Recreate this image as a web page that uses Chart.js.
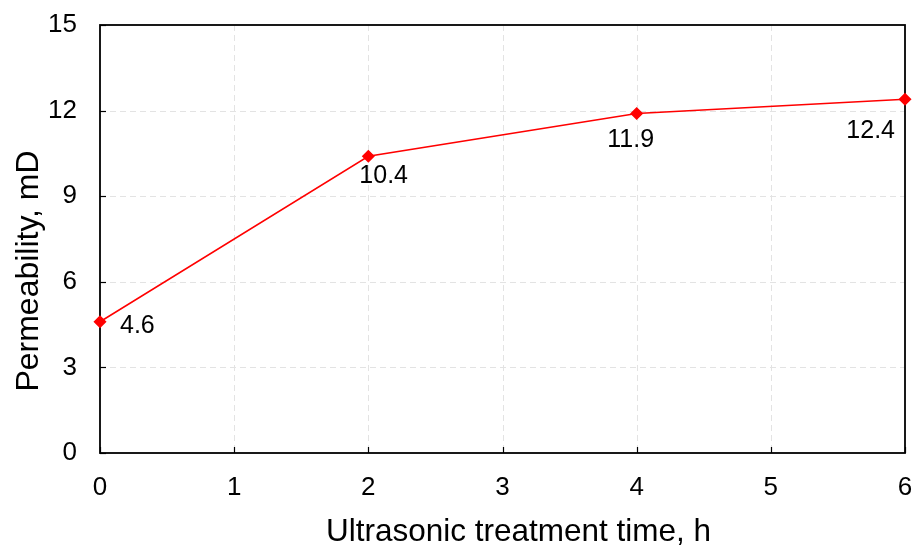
<!DOCTYPE html>
<html>
<head>
<meta charset="utf-8">
<script src="https://cdn.jsdelivr.net/npm/chart.js@4/dist/chart.umd.min.js"></script>
<style>
	html, body { margin: 0; padding: 0; background: #fff; }
	#wrap { width: 917px; height: 545px; }
</style>
</head>
<body>
<div id="wrap"><canvas id="mycanvas" width="917" height="545"></canvas></div>
<script>
// treatment time (h) and permeability (mD)
var hours = [0, 2, 4, 6];
var permeability = [4.6, 10.4, 11.9, 12.4];
var valueLabels = ['4.6', '10.4', '11.9', '12.4'];
var xTicks = [0, 1, 2, 3, 4, 5, 6];
var yTicks = [0, 3, 6, 9, 12, 15];

var xTitle = 'Ultrasonic treatment time, h';
var yTitle = 'Permeability, mD';

var FONT = '"Liberation Sans", Arial, sans-serif';

// where each value label sits relative to its point
var labelPlace = [
	{ dx: 20, dy: 11, align: 'left' },
	{ dx: -9, dy: 27, align: 'left' },
	{ dx: -6, dy: 34, align: 'center' },
	{ dx: -10, dy: 39, align: 'right' }
];

var points = [];
for (var i in hours) {
	points.push({ x: hours[i], y: permeability[i] });
}

var framePlugin = {
	id: 'frame',
	beforeDatasetsDraw: function(chart) {
		var ctx = chart.ctx;
		var a = chart.chartArea;
		var xs = chart.scales.x, ys = chart.scales.y;
		ctx.save();
		// dashed grid
		ctx.strokeStyle = '#e3e3e3';
		ctx.lineWidth = 1;
		ctx.setLineDash([6, 4]);
		xTicks.forEach(function(t) {
			if (t === xTicks[0] || t === xTicks[xTicks.length - 1]) return;
			var px = Math.round(xs.getPixelForValue(t)) + 0.5;
			ctx.beginPath(); ctx.moveTo(px, a.top); ctx.lineTo(px, a.bottom); ctx.stroke();
		});
		yTicks.forEach(function(t) {
			if (t === yTicks[0] || t === yTicks[yTicks.length - 1]) return;
			var py = Math.round(ys.getPixelForValue(t)) + 0.5;
			ctx.beginPath(); ctx.moveTo(a.left, py); ctx.lineTo(a.right, py); ctx.stroke();
		});
		ctx.setLineDash([]);
		// inward tick marks
		ctx.strokeStyle = '#000';
		ctx.lineWidth = 1.2;
		xTicks.forEach(function(t) {
			var px = Math.round(xs.getPixelForValue(t)) + 0.5;
			ctx.beginPath(); ctx.moveTo(px, a.bottom); ctx.lineTo(px, a.bottom - 6); ctx.stroke();
		});
		yTicks.forEach(function(t) {
			var py = Math.round(ys.getPixelForValue(t)) + 0.5;
			ctx.beginPath(); ctx.moveTo(a.left, py); ctx.lineTo(a.left + 6, py); ctx.stroke();
		});
		// box
		ctx.lineWidth = 1.8;
		ctx.strokeRect(a.left, a.top, a.right - a.left, a.bottom - a.top);
		ctx.restore();
	},
	afterDatasetsDraw: function(chart) {
		var ctx = chart.ctx;
		var meta = chart.getDatasetMeta(0);
		ctx.save();
		ctx.fillStyle = '#000';
		ctx.font = '25px ' + FONT;
		ctx.textBaseline = 'alphabetic';
		meta.data.forEach(function(el, i) {
			var p = labelPlace[i];
			ctx.textAlign = p.align;
			ctx.fillText(valueLabels[i], el.x + p.dx, el.y + p.dy);
		});
		// axis titles
		var a = chart.chartArea;
		ctx.font = '31.5px ' + FONT;
		ctx.textAlign = 'center';
		ctx.fillText(xTitle, (a.left + a.right) / 2 + 16, 541);
		ctx.translate(38, (a.top + a.bottom) / 2 + 32);
		ctx.rotate(-Math.PI / 2);
		ctx.font = '32px ' + FONT;
		ctx.fillText(yTitle, 0, 0);
		ctx.restore();
	}
};

var ctx = document.getElementById('mycanvas');

var lineChart = new Chart(ctx, {
	type: 'line',
	data: {
		datasets: [{
			data: points,
			borderColor: '#ff0000',
			backgroundColor: '#ff0000',
			borderWidth: 1.5,
			pointStyle: 'rectRot',
			pointRadius: 5.5,
			pointHoverRadius: 5.5,
			tension: 0,
			clip: false
		}]
	},
	options: {
		responsive: false,
		animation: false,
		layout: { padding: { left: 0, right: 12, top: 25, bottom: 0 } },
		plugins: { legend: { display: false }, tooltip: { enabled: false } },
		scales: {
			x: {
				type: 'linear',
				min: 0, max: 6,
				afterBuildTicks: function(s) { s.ticks = xTicks.map(function(v) { return { value: v }; }); },
				afterFit: function(s) { s.height = 92; s.paddingLeft = 0; s.paddingRight = 0; },
				grid: { display: false, drawTicks: false },
				border: { display: false },
				ticks: { padding: 19, color: '#000', font: { family: FONT, size: 26 } }
			},
			y: {
				min: 0, max: 15,
				afterBuildTicks: function(s) { s.ticks = yTicks.map(function(v) { return { value: v }; }); },
				afterFit: function(s) { s.width = 100; s.paddingTop = 0; s.paddingBottom = 0; },
				grid: { display: false, drawTicks: false },
				border: { display: false },
				ticks: { padding: 23, color: '#000', font: { family: FONT, size: 26 } }
			}
		}
	},
	plugins: [framePlugin]
});
</script>
</body>
</html>
